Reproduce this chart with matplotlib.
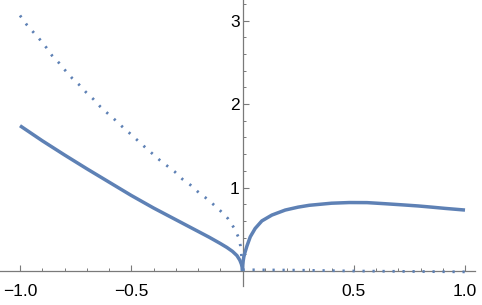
import matplotlib
matplotlib.use("Agg")
import matplotlib.pyplot as plt
from matplotlib.ticker import FixedLocator

# ---- data ----
solid_left_x = [-1.0, -0.9, -0.8, -0.7, -0.6, -0.5, -0.4, -0.3, -0.2, -0.15, -0.1,
                -0.07, -0.045, -0.025, -0.012, -0.005, -0.0015, 0.0]
solid_left_y = [1.74, 1.56, 1.39, 1.225, 1.065, 0.905, 0.755, 0.615, 0.475, 0.405, 0.33,
                0.282, 0.235, 0.185, 0.13, 0.083, 0.045, 0.0]

solid_right_x = [0.0, 0.001, 0.003, 0.006, 0.012, 0.02, 0.035, 0.057, 0.087, 0.132,
                 0.192, 0.25, 0.30, 0.40, 0.48, 0.56, 0.64, 0.72, 0.79, 0.85, 0.91, 1.0]
solid_right_y = [0.0, 0.07, 0.12, 0.17, 0.23, 0.30, 0.41, 0.51, 0.60, 0.67,
                 0.73, 0.765, 0.787, 0.812, 0.82, 0.819, 0.806, 0.792, 0.779, 0.765, 0.75, 0.73]

dot_left_x = [-1.0, -0.97, -0.94, -0.91, -0.88, -0.856, -0.824, -0.796, -0.766, -0.734,
              -0.703, -0.671, -0.640, -0.607, -0.573, -0.541, -0.507, -0.474, -0.441,
              -0.407, -0.373, -0.339, -0.305, -0.270, -0.234, -0.201, -0.167, -0.132,
              -0.099, -0.066, -0.039, -0.019, -0.009, -0.0045, 0.0]
dot_left_y = [3.06, 2.95, 2.86, 2.77, 2.67, 2.58, 2.49, 2.40, 2.31, 2.23,
              2.14, 2.06, 1.97, 1.89, 1.81, 1.73, 1.65, 1.57, 1.49,
              1.41, 1.33, 1.26, 1.19, 1.10, 1.03, 0.95, 0.88, 0.80,
              0.72, 0.63, 0.52, 0.41, 0.30, 0.18, 0.0]

dot_right_x = [0.0, 0.25, 0.5, 0.75, 1.0]
dot_right_y = [0.015, 0.01, 0.0, -0.005, -0.01]

x_ticks = [-1.0, -0.5, 0.5, 1.0]
x_tick_labels = ["\u22121.0", "\u22120.5", "0.5", "1.0"]
y_ticks = [1, 2, 3]
y_tick_labels = ["1", "2", "3"]

# ---- figure ----
blue = "#5E81B5"
axis_col = "#7a7a7a"
plt.rcParams["font.family"] = ["Liberation Sans", "DejaVu Sans"]

fig = plt.figure(figsize=(4.82, 3.05), dpi=100)
ax = fig.add_axes([0, 0, 1, 1])
ax.set_facecolor("none")
fig.patch.set_facecolor("white")

for xs, ys in [(solid_left_x, solid_left_y), (solid_right_x, solid_right_y)]:
    ax.plot(xs, ys, color=blue, lw=2.5, solid_capstyle="butt",
            solid_joinstyle="round", zorder=3)
for xs, ys in [(dot_left_x, dot_left_y), (dot_right_x, dot_right_y)]:
    ax.plot(xs, ys, color=blue, lw=2.0, linestyle=(0, (0.8, 2.8)),
            dash_capstyle="butt", zorder=3)

ax.set_xlim(-1.0899, 1.0764)
ax.set_ylim(-0.407, 3.2455)

for s in ["top", "right"]:
    ax.spines[s].set_visible(False)
ax.spines["left"].set_position(("data", 0))
ax.spines["bottom"].set_position(("data", 0))
ax.spines["left"].set_bounds(-0.18, 3.25)
ax.spines["bottom"].set_bounds(-1.09, 1.046)
for s in ["left", "bottom"]:
    ax.spines[s].set_color(axis_col)
    ax.spines[s].set_linewidth(0.9)
    ax.spines[s].set_zorder(1)

ax.xaxis.set_major_locator(FixedLocator(x_ticks))
ax.set_xticklabels(x_tick_labels)
ax.yaxis.set_major_locator(FixedLocator(y_ticks))
ax.set_yticklabels(y_tick_labels)
ax.xaxis.set_minor_locator(FixedLocator([v / 10 for v in range(-10, 11) if v % 5 != 0]))
ax.yaxis.set_minor_locator(FixedLocator([v / 5 for v in range(1, 17) if v % 5 != 0]))

ax.tick_params(axis="both", which="major", direction="in", length=4, width=0.8,
               color=axis_col, labelsize=12.5, labelcolor="black")
ax.tick_params(axis="both", which="minor", direction="in", length=2, width=0.7,
               color=axis_col)
ax.tick_params(axis="x", which="major", pad=9)
ax.tick_params(axis="y", which="major", pad=2)

fig.savefig("out.png", dpi=100)
